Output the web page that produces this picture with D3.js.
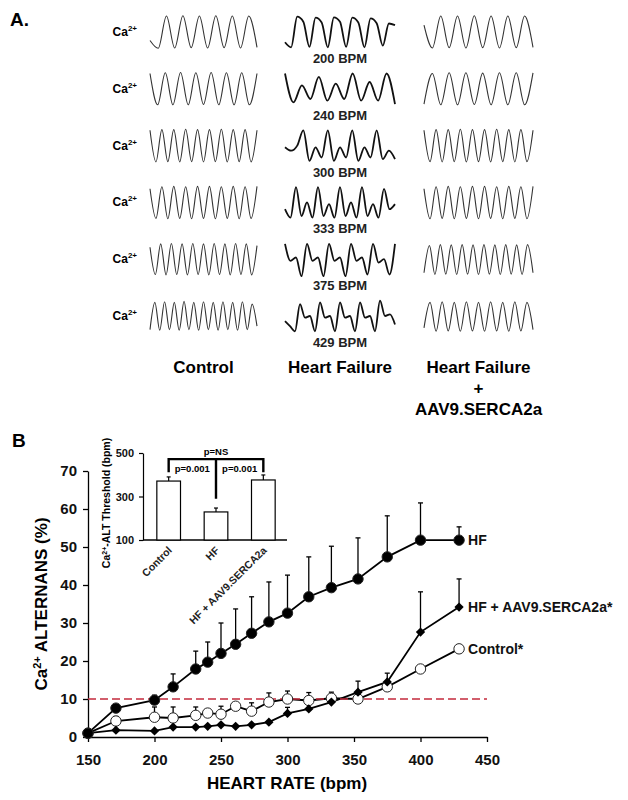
<!DOCTYPE html>
<html>
<head>
<meta charset="utf-8">
<script src="https://cdn.jsdelivr.net/npm/d3@7"></script>
<style>
  body { margin: 0; background: #fff; }
  svg { font-family: Arial, "Liberation Sans", sans-serif; font-weight: bold; }
</style>
</head>
<body>
<svg id="fig" width="628" height="800"></svg>
<script>
// ---- panel A data: Ca transients, levels 0..1 at evenly spaced knots ----
const rateLabels = ["200 BPM", "240 BPM", "300 BPM", "333 BPM", "375 BPM", "429 BPM"];
const columnNames = [["Control"], ["Heart Failure"], ["Heart Failure", "+", "AAV9.SERCA2a"]];

const controlTraces = [
  [0.25, 0.02, 0.97, 0.03, 0.98, 0.04, 0.97, 0.03, 0.98, 0.04, 0.97, 0.03, 0.97, 0.05],
  [0.95, 0.03, 0.97, 0.03, 0.98, 0.03, 0.97, 0.04, 0.98, 0.03, 0.97, 0.03, 0.97, 0.03, 0.95],
  [0.95, 0.02, 0.97, 0.03, 0.97, 0.02, 0.98, 0.03, 0.97, 0.02, 0.97, 0.03, 0.98, 0.02, 0.97, 0.03, 0.97, 0.02, 0.95],
  [0.9, 0.03, 0.96, 0.02, 0.97, 0.03, 0.96, 0.02, 0.97, 0.03, 0.97, 0.02, 0.96, 0.03, 0.97, 0.02, 0.96, 0.03, 0.97],
  [0.85, 0.05, 0.95, 0.04, 0.96, 0.05, 0.95, 0.04, 0.96, 0.05, 0.95, 0.04, 0.96, 0.05, 0.95, 0.04, 0.96, 0.05, 0.95, 0.04, 0.9],
  [0.1, 0.9, 0.08, 0.92, 0.1, 0.9, 0.08, 0.93, 0.1, 0.9, 0.08, 0.92, 0.1, 0.9, 0.08, 0.92, 0.1, 0.9, 0.08, 0.92, 0.1, 0.85, 0.2]
];
const hfTraces = [
  [0.2, 0.05, 0.95, 0.8, 0.06, 0.92, 0.78, 0.05, 0.93, 0.8, 0.06, 0.92, 0.78, 0.05, 0.9, 0.76, 0.1, 0.75, 0.7],
  [0.95, 0.1, 0.6, 0.2, 0.85, 0.15, 0.65, 0.2, 0.95, 0.15, 0.7, 0.15, 0.95, 0.05],
  [0.45, 0.35, 0.5, 0.95, 0.05, 0.45, 0.15, 0.95, 0.05, 0.45, 0.15, 0.95, 0.05, 0.45, 0.15, 0.95, 0.1, 0.35, 0.1],
  [0.3, 0.05, 0.95, 0.1, 0.5, 0.05, 0.95, 0.1, 0.45, 0.05, 0.95, 0.1, 0.5, 0.05, 0.95, 0.1, 0.45, 0.05, 0.9, 0.3, 0.45],
  [0.95, 0.45, 0.55, 0.0, 0.95, 0.45, 0.55, 0.0, 0.95, 0.45, 0.55, 0.0, 0.95, 0.45, 0.55, 0.05, 0.95, 0.4, 0.5, 0.05, 0.95],
  [0.35, 0.2, 0.05, 0.85, 0.45, 0.5, 0.05, 0.9, 0.45, 0.5, 0.05, 0.9, 0.45, 0.5, 0.05, 0.9, 0.45, 0.5, 0.05, 0.95, 0.5, 0.55, 0.25]
];
const serca2aTraces = [
  [0.7, 0.03, 0.97, 0.04, 0.97, 0.03, 0.98, 0.04, 0.97, 0.03, 0.97, 0.04, 0.97, 0.05],
  [0.05, 0.95, 0.03, 0.97, 0.03, 0.97, 0.04, 0.96, 0.03, 0.97, 0.03, 0.97, 0.03, 0.97],
  [0.95, 0.03, 0.97, 0.02, 0.97, 0.03, 0.98, 0.02, 0.97, 0.03, 0.97, 0.02, 0.98, 0.03, 0.97, 0.02, 0.97, 0.03, 0.95],
  [0.9, 0.02, 0.96, 0.03, 0.97, 0.02, 0.96, 0.03, 0.97, 0.02, 0.97, 0.03, 0.96, 0.02, 0.97, 0.03, 0.96, 0.02, 0.97],
  [0.1, 0.9, 0.05, 0.93, 0.06, 0.92, 0.05, 0.93, 0.06, 0.92, 0.05, 0.93, 0.06, 0.92, 0.05, 0.93, 0.06, 0.92, 0.05, 0.93, 0.1],
  [0.15, 0.9, 0.05, 0.92, 0.06, 0.9, 0.05, 0.92, 0.06, 0.9, 0.05, 0.92, 0.06, 0.9, 0.05, 0.92, 0.06, 0.9, 0.1]
];

// ---- panel B data ----
const heartRates = [150, 171, 200, 214, 231, 240, 250, 261, 273, 286, 300, 316, 333, 353, 375, 400, 429];
const hfMean = [1.0, 7.6, 9.7, 13.2, 17.9, 19.7, 22.0, 24.4, 27.3, 30.3, 32.6, 36.9, 39.3, 41.6, 47.4, 51.8, 51.8];
const hfErr = [0, 0.8, 1.3, 3.4, 4.7, 5.3, 8.0, 9.3, 9.6, 10.5, 10.0, 10.5, 10.9, 10.8, 10.8, 9.8, 3.5];
const sercaMean = [1.0, 1.8, 1.6, 2.6, 2.6, 2.8, 3.2, 2.8, 3.2, 3.9, 6.2, 7.4, 9.2, 11.8, 14.5, 27.6, 34.2];
const sercaErr = [0, 0, 0, 0, 0, 0, 0, 0, 0, 0, 1.6, 0, 0, 2.9, 2.3, 10.6, 7.4];
const controlMean = [1.0, 4.2, 5.2, 5.0, 5.7, 6.3, 6.0, 8.1, 6.8, 9.2, 10.0, 9.6, 10.2, 10.0, 13.2, 17.9, 23.2];
const controlErr = [0, 1.2, 2.7, 2.9, 2.2, 0, 2.1, 0, 2.2, 2.4, 2.1, 2.1, 1.6, 0, 0, 0, 0];
const threshold = 10;

const insetGroups = ["Control", "HF", "HF + AAV9.SERCA2a"];
const insetMean = [371, 229, 376];
const insetErr = [19, 18, 23];

const svg = d3.select("#fig");

// ================= panel A =================
const panelA = svg.append("g");
panelA.append("text").attr("x", 10).attr("y", 26).attr("font-size", 19).text("A.");

const rowScale = d3.scalePoint().domain(d3.range(rateLabels.length)).range([32, 316]);
const colExtent = [[150, 257], [285, 395], [424, 533]];
const traceSets = [controlTraces, hfTraces, serca2aTraces];

rateLabels.forEach((lab, r) => {
  const cy = rowScale(r);
  const t = panelA.append("text").attr("x", 137).attr("y", cy + 4)
    .attr("text-anchor", "end").attr("font-size", 12);
  t.append("tspan").text("Ca");
  t.append("tspan").attr("dy", -5).attr("font-size", 8).text("2+");
  panelA.append("text").attr("x", 340).attr("y", cy + 31)
    .attr("text-anchor", "middle").attr("font-size", 13).attr("fill", "#222").text(lab);
});

traceSets.forEach((set, c) => {
  set.forEach((vals, r) => {
    const cy = rowScale(r);
    const x = d3.scaleLinear().domain([0, vals.length - 1]).range(colExtent[c]);
    const y = d3.scaleLinear().domain([0, 1]).range([cy + 17, cy - 17]);
    const line = d3.line().x((d, i) => x(i)).y(d => y(d)).curve(d3.curveMonotoneX);
    panelA.append("path")
      .attr("d", line(vals))
      .attr("fill", "none")
      .attr("stroke", c === 1 ? "#111" : "#333")
      .attr("stroke-width", c === 1 ? 1.8 : 1.1);
  });
});

columnNames.forEach((lines, c) => {
  const cx = (colExtent[c][0] + colExtent[c][1]) / 2;
  lines.forEach((s, k) => {
    panelA.append("text").attr("x", cx).attr("y", 373 + k * 21)
      .attr("text-anchor", "middle").attr("font-size", 17).text(s);
  });
});

// ================= panel B =================
const panelB = svg.append("g");
panelB.append("text").attr("x", 12).attr("y", 447).attr("font-size", 19).text("B");

const x = d3.scaleLinear().domain([150, 450]).range([88, 487]);
const y = d3.scaleLinear().domain([0, 70]).range([737, 471]);

const xAxis = panelB.append("g").attr("transform", "translate(0,737)")
  .call(d3.axisBottom(x).tickValues(d3.range(150, 451, 50)).tickSize(5).tickPadding(12).tickSizeOuter(0));
const yAxis = panelB.append("g").attr("transform", "translate(88,0)")
  .call(d3.axisLeft(y).tickValues(d3.range(0, 71, 10)).tickSize(5).tickPadding(6).tickSizeOuter(0));
[xAxis, yAxis].forEach(a => {
  a.selectAll("path, line").attr("stroke", "#000").attr("stroke-width", 1.3);
  a.selectAll("text").attr("font-size", 15).attr("font-weight", "bold")
    .attr("font-family", "Arial, 'Liberation Sans', sans-serif").attr("fill", "#111");
});

panelB.append("text").attr("x", 287).attr("y", 789).attr("text-anchor", "middle")
  .attr("font-size", 17).text("HEART RATE (bpm)");
const yt = panelB.append("text").attr("transform", "translate(47,604) rotate(-90)")
  .attr("text-anchor", "middle").attr("font-size", 17);
yt.append("tspan").text("Ca");
yt.append("tspan").attr("dy", -6).attr("font-size", 11).text("2+");
yt.append("tspan").attr("dy", 6).text(" ALTERNANS (%)");

const series = [
  { mean: hfMean, err: hfErr, shape: "circle", fill: "#000", label: "HF" },
  { mean: sercaMean, err: sercaErr, shape: "diamond", fill: "#000", label: "HF + AAV9.SERCA2a*" },
  { mean: controlMean, err: controlErr, shape: "circle", fill: "#fff", label: "Control*" }
];

// error bars (upper only)
series.forEach(s => {
  const g = panelB.append("g").attr("stroke", "#000").attr("stroke-width", 1.3);
  heartRates.forEach((hr, i) => {
    if (!s.err[i]) return;
    const top = y(s.mean[i] + s.err[i]);
    g.append("line").attr("x1", x(hr)).attr("x2", x(hr)).attr("y1", y(s.mean[i])).attr("y2", top);
    g.append("line").attr("x1", x(hr) - 2.5).attr("x2", x(hr) + 2.5).attr("y1", top).attr("y2", top);
  });
});

// connecting lines
const seriesLine = d3.line().x((d, i) => x(heartRates[i])).y(d => y(d));
series.forEach(s => {
  panelB.append("path").attr("d", seriesLine(s.mean))
    .attr("fill", "none").attr("stroke", "#000").attr("stroke-width", 1.8);
});

// threshold line
panelB.append("line")
  .attr("x1", x(150)).attr("x2", x(450)).attr("y1", y(threshold)).attr("y2", y(threshold))
  .attr("stroke", "#c42a3c").attr("stroke-width", 1.6).attr("stroke-dasharray", "8,4");

// markers
const diamond = d3.symbol().type(d3.symbolDiamond2 || d3.symbolDiamond).size(55);
series.slice().reverse().forEach(s => {
  heartRates.forEach((hr, i) => {
    if (s.shape === "circle") {
      panelB.append("circle").attr("cx", x(hr)).attr("cy", y(s.mean[i])).attr("r", 5.2)
        .attr("fill", s.fill).attr("stroke", "#222").attr("stroke-width", 1);
    } else {
      panelB.append("path").attr("d", diamond())
        .attr("transform", `translate(${x(hr)},${y(s.mean[i])})`).attr("fill", "#000");
    }
  });
  const last = heartRates.length - 1;
  panelB.append("text").attr("x", x(heartRates[last]) + 9).attr("y", y(s.mean[last]) + 5)
    .attr("font-size", 14).attr("fill", "#111").text(s.label);
});

// ================= inset =================
const inset = panelB.append("g");
const xIn = d3.scaleBand().domain(insetGroups).range([145, 287]).paddingInner(0.5).paddingOuter(0.25);
const yIn = d3.scaleLinear().domain([100, 500]).range([540, 453]);

const yInAxis = inset.append("g").attr("transform", "translate(143,0)")
  .call(d3.axisLeft(yIn).tickValues([100, 300, 500]).tickSize(4).tickPadding(5).tickSizeOuter(0));
yInAxis.selectAll("path, line").attr("stroke", "#000").attr("stroke-width", 1.2);
yInAxis.selectAll("text").attr("font-size", 11).attr("font-weight", "bold")
  .attr("font-family", "Arial, 'Liberation Sans', sans-serif").attr("fill", "#111");
inset.append("line").attr("x1", 143).attr("x2", 287).attr("y1", yIn(100)).attr("y2", yIn(100))
  .attr("stroke", "#000").attr("stroke-width", 1.3);

insetGroups.forEach((g, i) => {
  const bx = xIn(g), bw = xIn.bandwidth(), cx = bx + bw / 2;
  const top = yIn(insetMean[i] + insetErr[i]);
  inset.append("line").attr("x1", cx).attr("x2", cx).attr("y1", yIn(insetMean[i])).attr("y2", top)
    .attr("stroke", "#000").attr("stroke-width", 1.2);
  inset.append("line").attr("x1", cx - 2).attr("x2", cx + 2).attr("y1", top).attr("y2", top)
    .attr("stroke", "#000").attr("stroke-width", 1.2);
  inset.append("rect").attr("x", bx).attr("y", yIn(insetMean[i]))
    .attr("width", bw).attr("height", yIn(100) - yIn(insetMean[i]))
    .attr("fill", "#fff").attr("stroke", "#000").attr("stroke-width", 1.2);
  inset.append("text")
    .attr("transform", `translate(${cx + 4},551) rotate(-45)`)
    .attr("text-anchor", "end").attr("font-size", 10.5).attr("fill", "#222").text(g);
});

// significance brackets
const cxs = insetGroups.map(g => xIn(g) + xIn.bandwidth() / 2);
const yBr = yIn(472);
inset.append("path")
  .attr("d", `M${cxs[0]},${yIn(412)}V${yBr}H${cxs[2]}V${yIn(412)}M${cxs[1]},${yBr}V${yIn(290)}`)
  .attr("fill", "none").attr("stroke", "#000").attr("stroke-width", 2.4);
inset.append("text").attr("x", cxs[1]).attr("y", yBr - 4).attr("text-anchor", "middle")
  .attr("font-size", 9.5).text("p=NS");
inset.append("text").attr("x", (cxs[0] + cxs[1]) / 2).attr("y", yBr + 13).attr("text-anchor", "middle")
  .attr("font-size", 9.5).text("p=0.001");
inset.append("text").attr("x", (cxs[1] + cxs[2]) / 2).attr("y", yBr + 13).attr("text-anchor", "middle")
  .attr("font-size", 9.5).text("p=0.001");

const iy = inset.append("text").attr("transform", "translate(110,503) rotate(-90)")
  .attr("text-anchor", "middle").attr("font-size", 10.5);
iy.append("tspan").text("Ca");
iy.append("tspan").attr("dy", -3).attr("font-size", 7).text("2+");
iy.append("tspan").attr("dy", 3).text("-ALT Threshold (bpm)");
</script>
</body>
</html>
